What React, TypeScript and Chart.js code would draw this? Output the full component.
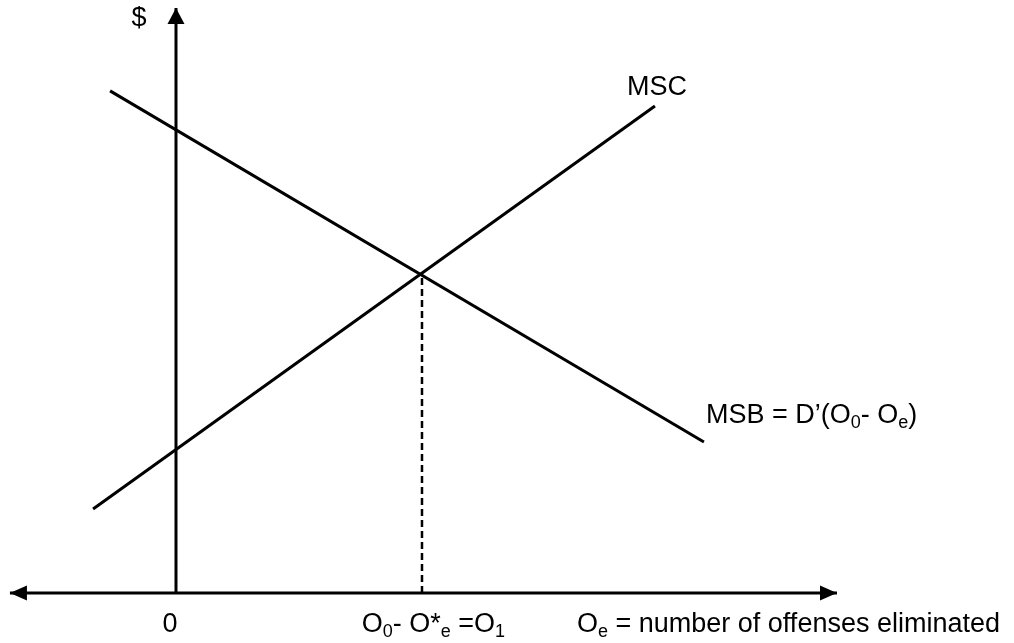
import React, { useEffect, useRef } from "react";
import { Chart, registerables } from "chart.js";

Chart.register(...registerables);

// ---- data (economic units: x = offenses eliminated, y = $) ----
const xAxisExtent = [-6.75, 26.87];
const yAxisExtent = [0, 18.28];
const msbX = [-2.68, 21.46];
const msbY = [15.69, 4.72];
const mscX = [-3.37, 19.47];
const mscY = [2.625, 15.22];
const equilibrium = { x: 10, y: 10 };
const xScaleRange = [-7.154, 34.065];
const yScaleRange = [-1.5625, 18.53];

type Seg = { t: string; sub?: boolean };
const yAxisLabel: Seg[] = [{ t: "$" }];
const mscLabel: Seg[] = [{ t: "MSC" }];
const msbLabel: Seg[] = [
  { t: "MSB = D\u2019(O" },
  { t: "0", sub: true },
  { t: "- O" },
  { t: "e", sub: true },
  { t: ")" },
];
const originLabel: Seg[] = [{ t: "0" }];
const eqLabel: Seg[] = [
  { t: "O" },
  { t: "0", sub: true },
  { t: "- O*" },
  { t: "e", sub: true },
  { t: " =O" },
  { t: "1", sub: true },
];
const xAxisLabel: Seg[] = [
  { t: "O" },
  { t: "e", sub: true },
  { t: " = number of offenses eliminated" },
];

const FONT = '"Liberation Sans", Arial, Helvetica, sans-serif';
const SIZE = 27;

function drawRich(ctx: CanvasRenderingContext2D, segs: Seg[], x: number, y: number, align: "left" | "center" | "right") {
  const subSize = Math.round(SIZE * 0.66);
  let total = 0;
  const widths = segs.map((s) => {
    ctx.font = `${s.sub ? subSize : SIZE}px ${FONT}`;
    const w = ctx.measureText(s.t).width;
    total += w;
    return w;
  });
  let cx = align === "left" ? x : align === "right" ? x - total : x - total / 2;
  ctx.textBaseline = "alphabetic";
  ctx.textAlign = "left";
  ctx.fillStyle = "#000";
  segs.forEach((s, i) => {
    ctx.font = `${s.sub ? subSize : SIZE}px ${FONT}`;
    ctx.fillText(s.t, cx, s.sub ? y + SIZE * 0.2 : y);
    cx += widths[i];
  });
}

const overlay = {
  id: "overlay",
  afterDatasetsDraw(chart: any) {
    const ctx: CanvasRenderingContext2D = chart.ctx;
    const xs = chart.scales.x;
    const ys = chart.scales.y;
    const px = (v: number) => xs.getPixelForValue(v);
    const py = (v: number) => ys.getPixelForValue(v);
    ctx.save();
    ctx.fillStyle = "#000";
    // arrowheads
    const x0 = px(0), y0 = py(0);
    const xl = px(xAxisExtent[0]), xr = px(xAxisExtent[1]);
    const yt = py(yAxisExtent[1]);
    ctx.beginPath();
    ctx.moveTo(xl, y0);
    ctx.lineTo(xl + 17, y0 - 7.5);
    ctx.lineTo(xl + 17, y0 + 7.5);
    ctx.closePath();
    ctx.fill();
    ctx.beginPath();
    ctx.moveTo(xr, y0);
    ctx.lineTo(xr - 17, y0 - 7.5);
    ctx.lineTo(xr - 17, y0 + 7.5);
    ctx.closePath();
    ctx.fill();
    ctx.beginPath();
    ctx.moveTo(x0, yt);
    ctx.lineTo(x0 - 8.5, yt + 16);
    ctx.lineTo(x0 + 8.5, yt + 16);
    ctx.closePath();
    ctx.fill();

    // labels
    drawRich(ctx, yAxisLabel, x0 - 37, yt + 18, "center");
    drawRich(ctx, mscLabel, px(mscX[1]) - 28, py(mscY[1]) - 11, "left");
    drawRich(ctx, msbLabel, px(msbX[1]) + 2, py(msbY[1]) - 19, "left");
    drawRich(ctx, originLabel, x0 - 6, y0 + 39, "center");
    drawRich(ctx, eqLabel, px(equilibrium.x) + 83, y0 + 39, "right");
    drawRich(ctx, xAxisLabel, px(equilibrium.x) + 155, y0 + 39, "left");
    ctx.restore();
  },
};

export default function App() {
  const ref = useRef<HTMLCanvasElement>(null);
  useEffect(() => {
    document.body.style.margin = "0";
    const line = (data: { x: number; y: number }[], extra: any = {}) => ({
      data,
      showLine: true,
      borderColor: "#000",
      borderWidth: 3,
      pointRadius: 0,
      fill: false,
      ...extra,
    });
    const chart = new Chart(ref.current!, {
      type: "scatter",
      data: {
        datasets: [
          line([{ x: xAxisExtent[0], y: 0 }, { x: xAxisExtent[1], y: 0 }]),
          line([{ x: 0, y: yAxisExtent[0] }, { x: 0, y: yAxisExtent[1] }]),
          line(msbX.map((x, i) => ({ x, y: msbY[i] }))),
          line(mscX.map((x, i) => ({ x, y: mscY[i] }))),
          line([{ x: equilibrium.x, y: 0 }, { x: equilibrium.x, y: equilibrium.y }], {
            borderDash: [7, 4],
            borderWidth: 2.5,
          }),
        ],
      },
      options: {
        animation: false,
        responsive: false,
        layout: { padding: 0 },
        plugins: { legend: { display: false }, tooltip: { enabled: false } },
        scales: {
          x: { type: "linear", display: false, min: xScaleRange[0], max: xScaleRange[1] },
          y: { type: "linear", display: false, min: yScaleRange[0], max: yScaleRange[1] },
        },
      },
      plugins: [overlay],
    });
    return () => chart.destroy();
  }, []);
  return (
    <div style={{ width: 1014, height: 643, background: "#fff" }}>
      <canvas ref={ref} width={1014} height={643} />
    </div>
  );
}
